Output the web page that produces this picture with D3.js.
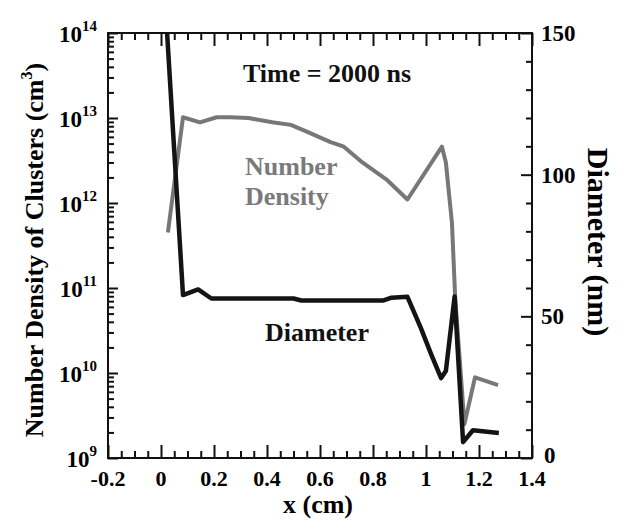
<!DOCTYPE html>
<html><head><meta charset="utf-8">
<script src="https://cdn.jsdelivr.net/npm/d3@7"></script>
<style>
html,body{margin:0;padding:0;background:#fff;}
text{font-family:"Liberation Serif","DejaVu Serif",serif;font-weight:bold;}
</style></head>
<body><svg id="c" width="622" height="522"></svg>
<script>
// ---- data ----
const densityX = [0.026, 0.083, 0.147, 0.21, 0.26, 0.33, 0.42, 0.49, 0.55, 0.64, 0.69, 0.76, 0.85, 0.93, 1.06, 1.075, 1.098, 1.11, 1.145, 1.185, 1.272];
const densityY = [4.5e11, 1.02e13, 8.9e12, 1.02e13, 1.02e13, 1.0e13, 8.9e12, 8.3e12, 6.9e12, 5.2e12, 4.6e12, 3.0e12, 1.9e12, 1.1e12, 4.6e12, 3.0e12, 5.8e11, 7.8e10, 2.5e9, 8.9e9, 7.2e9];
const diameterX = [0.023, 0.083, 0.14, 0.19, 0.5, 0.53, 0.84, 0.87, 0.93, 0.98, 1.02, 1.057, 1.075, 1.108, 1.14, 1.177, 1.275];
const diameterY = [150, 57.5, 59.5, 56.3, 56.3, 55.6, 55.6, 56.6, 56.9, 46, 36.5, 28.2, 30.7, 57, 5.6, 9.8, 8.8];
const xTicks = [-0.2, 0, 0.2, 0.4, 0.6, 0.8, 1, 1.2, 1.4];
const xTickLabels = ["-0.2", "0", "0.2", "0.4", "0.6", "0.8", "1", "1.2", "1.4"];
const leftExponents = [9, 10, 11, 12, 13, 14];
const rightTicks = [0, 50, 100, 150];
const rightTickLabels = ["0", "50", "100", "150"];

// ---- layout ----
const L = 108, R = 532, T = 33, B = 458;
const svg = d3.select("#c");
const x = d3.scaleLinear().domain([-0.2, 1.4]).range([L, R]);
const yL = d3.scaleLog().domain([1e9, 1e14]).range([B, T]);
const yR = d3.scaleLinear().domain([0, 150]).range([B, T]);

const xMinor = d3.range(-0.2, 1.4001, 0.05).map(v => +v.toFixed(2)).filter(v => !xTicks.some(t => Math.abs(t - v) < 1e-6));
const leftMinor = [];
leftExponents.slice(0, -1).forEach(e => { for (let k = 2; k <= 9; k++) leftMinor.push(k * Math.pow(10, e)); });
const rightMinor = d3.range(0, 151, 10).filter(v => v % 50 !== 0);

function styleAxis(g){ g.select(".domain").remove(); g.selectAll("line").attr("stroke","#111").attr("stroke-width",2); }

svg.append("g").attr("transform",`translate(0,${B})`).call(d3.axisBottom(x).tickValues(xTicks).tickSize(-13).tickFormat("")).call(styleAxis);
svg.append("g").attr("transform",`translate(0,${B})`).call(d3.axisBottom(x).tickValues(xMinor).tickSize(-7).tickFormat("")).call(styleAxis);
svg.append("g").attr("transform",`translate(0,${T})`).call(d3.axisTop(x).tickValues(xTicks).tickSize(-13).tickFormat("")).call(styleAxis);
svg.append("g").attr("transform",`translate(0,${T})`).call(d3.axisTop(x).tickValues(xMinor).tickSize(-7).tickFormat("")).call(styleAxis);
svg.append("g").attr("transform",`translate(${L},0)`).call(d3.axisLeft(yL).tickValues(leftExponents.map(e=>Math.pow(10,e))).tickSize(-10).tickFormat("")).call(styleAxis);
svg.append("g").attr("transform",`translate(${L},0)`).call(d3.axisLeft(yL).tickValues(leftMinor).tickSize(-6).tickFormat("")).call(styleAxis);
svg.append("g").attr("transform",`translate(${R},0)`).call(d3.axisRight(yR).tickValues(rightTicks).tickSize(-11).tickFormat("")).call(styleAxis);
svg.append("g").attr("transform",`translate(${R},0)`).call(d3.axisRight(yR).tickValues(rightMinor).tickSize(-6).tickFormat("")).call(styleAxis);

// frame
svg.append("rect").attr("x",L).attr("y",T).attr("width",R-L).attr("height",B-T)
  .attr("fill","none").attr("stroke","#111").attr("stroke-width",2);

// clip
svg.append("clipPath").attr("id","clip").append("rect").attr("x",L).attr("y",T).attr("width",R-L).attr("height",B-T);

const densLine = d3.line().x(d=>x(d[0])).y(d=>yL(d[1]));
const diamLine = d3.line().x(d=>x(d[0])).y(d=>yR(d[1]));
svg.append("path").attr("clip-path","url(#clip)")
  .datum(densityX.map((v,i)=>[v,densityY[i]]))
  .attr("d",densLine).attr("fill","none").attr("stroke","#777").attr("stroke-width",4).attr("stroke-linejoin","round");
svg.append("path").attr("clip-path","url(#clip)")
  .datum(diameterX.map((v,i)=>[v,diameterY[i]]))
  .attr("d",diamLine).attr("fill","none").attr("stroke","#141414").attr("stroke-width",4.5).attr("stroke-linejoin","round");

// x tick labels
svg.append("g").selectAll("text").data(xTicks).join("text")
  .attr("x",d=>x(d)).attr("y",B+28).attr("text-anchor","middle")
  .attr("font-size",22).text((d,i)=>xTickLabels[i]);

// left tick labels (10^n)
const ll = svg.append("g").selectAll("text").data(leftExponents).join("text")
  .attr("x",L-11).attr("y",d=>yL(Math.pow(10,d))+9).attr("text-anchor","end").attr("font-size",23);
ll.append("tspan").text("10");
ll.append("tspan").attr("font-size",15).attr("dy",-11).text(d=>d);

// right tick labels
svg.append("g").selectAll("text").data(rightTicks).join("text")
  .attr("x",d=>R+(d===0?12:9)).attr("y",d=>yR(d)+(d===0?5:8)).attr("text-anchor","start")
  .attr("font-size",23).text((d,i)=>rightTickLabels[i]);

// annotations
svg.append("text").attr("x",243).attr("y",82).attr("font-size",26).attr("fill","#111").text("Time = 2000 ns");
svg.append("text").attr("x",245).attr("y",175).attr("font-size",26).attr("fill","#7a7a7a").text("Number");
svg.append("text").attr("x",245).attr("y",205).attr("font-size",26).attr("fill","#7a7a7a").text("Density");
svg.append("text").attr("x",265).attr("y",341).attr("font-size",26).attr("fill","#111").text("Diameter");

// axis titles
svg.append("text").attr("x",318).attr("y",513).attr("text-anchor","middle").attr("font-size",26).text("x (cm)");
const lt = svg.append("text").attr("transform","translate(43,250) rotate(-90)").attr("text-anchor","middle").attr("font-size",26);
lt.append("tspan").text("Number Density of Clusters (cm");
lt.append("tspan").attr("font-size",16).attr("dy",-11).text("3");
lt.append("tspan").attr("dy",11).text(")");
svg.append("text").attr("transform","translate(588,242) rotate(90)").attr("text-anchor","middle").attr("font-size",30).text("Diameter (nm)");
</script></body></html>
